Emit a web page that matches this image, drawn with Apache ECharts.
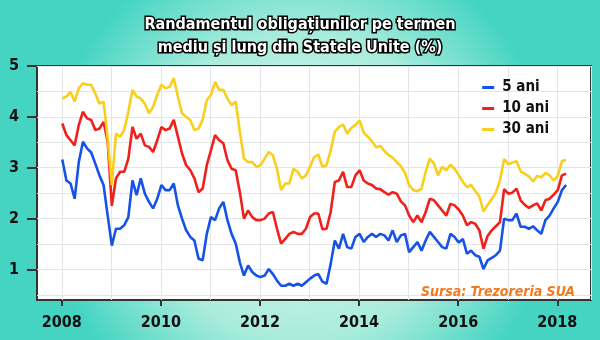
<!DOCTYPE html>
<html>
<head>
<meta charset="utf-8">
<script src="https://cdn.jsdelivr.net/npm/echarts@6/dist/echarts.min.js"></script>
<style>html,body{margin:0;padding:0;}#c{width:600px;height:340px;}</style>
</head>
<body>
<div id="c"></div>
<script>
// Monthly readings, Jan 2008 .. Feb 2018
const blue = [3.16,2.75,2.69,2.39,3.11,3.51,3.38,3.30,3.08,2.85,2.66,2.06,
1.47,1.80,1.80,1.87,2.03,2.75,2.46,2.79,2.49,2.33,2.20,2.39,
2.66,2.56,2.56,2.69,2.26,2.00,1.77,1.64,1.57,1.21,1.18,1.70,
2.03,1.97,2.20,2.33,1.97,1.70,1.51,1.14,0.88,1.08,0.95,0.88,
0.85,0.88,1.01,0.91,0.78,0.68,0.68,0.72,0.68,0.72,0.68,0.75,
0.82,0.88,0.91,0.76,0.72,1.11,1.57,1.41,1.70,1.44,1.41,1.64,
1.70,1.54,1.64,1.70,1.64,1.70,1.67,1.57,1.77,1.54,1.67,1.70,
1.34,1.44,1.54,1.37,1.57,1.74,1.64,1.54,1.44,1.41,1.70,1.64,
1.53,1.60,1.31,1.37,1.28,1.25,1.01,1.18,1.23,1.28,1.37,2.00,
1.97,1.97,2.10,1.84,1.84,1.80,1.85,1.77,1.70,1.97,2.06,2.20,
2.33,2.56,2.66];
const red = [3.87,3.64,3.54,3.44,3.84,4.10,3.97,3.94,3.74,3.77,3.90,3.51,
2.25,2.79,2.92,2.92,3.18,3.80,3.57,3.67,3.44,3.41,3.31,3.54,
3.80,3.74,3.77,3.94,3.61,3.28,3.05,2.95,2.79,2.52,2.59,3.05,
3.34,3.64,3.54,3.48,3.15,2.98,2.95,2.52,2.00,2.16,2.03,1.97,
1.97,2.00,2.10,2.13,1.80,1.51,1.60,1.70,1.74,1.70,1.70,1.80,
2.03,2.10,2.10,1.79,1.80,2.13,2.72,2.75,2.92,2.62,2.62,2.85,
2.95,2.75,2.69,2.66,2.59,2.58,2.52,2.47,2.52,2.49,2.34,2.26,
2.06,1.93,2.06,1.93,2.13,2.39,2.36,2.26,2.16,2.06,2.29,2.26,
2.18,2.06,1.87,1.93,1.90,1.77,1.41,1.66,1.77,1.85,1.93,2.58,
2.49,2.51,2.59,2.36,2.27,2.21,2.26,2.30,2.16,2.36,2.39,2.47,
2.56,2.85,2.88];
const yellow = [4.36,4.40,4.49,4.30,4.56,4.66,4.63,4.63,4.46,4.26,4.30,3.57,
2.66,3.67,3.61,3.74,4.10,4.53,4.40,4.36,4.26,4.07,4.20,4.43,
4.63,4.56,4.59,4.76,4.40,4.07,4.00,3.94,3.74,3.77,3.94,4.33,
4.43,4.69,4.53,4.53,4.36,4.23,4.30,3.71,3.18,3.11,3.11,3.02,
3.05,3.18,3.31,3.25,2.98,2.56,2.69,2.69,2.98,2.92,2.79,2.85,
3.02,3.21,3.26,3.02,3.05,3.34,3.71,3.80,3.85,3.67,3.78,3.84,
3.93,3.69,3.61,3.52,3.40,3.43,3.33,3.25,3.20,3.11,3.03,2.90,
2.66,2.56,2.54,2.59,2.92,3.18,3.08,2.85,3.02,2.95,3.06,2.98,
2.86,2.72,2.62,2.66,2.54,2.44,2.14,2.27,2.38,2.51,2.75,3.17,
3.07,3.10,3.13,2.93,2.88,2.83,2.73,2.84,2.81,2.90,2.85,2.75,
2.84,3.13,3.15];
const dates = blue.map((_, i) => 2008.01 + i / 12);
const xTicks = [2008, 2010, 2012, 2014, 2016, 2018];
const yTicks = [1, 2, 3, 4, 5];
const seriesNames = ['5 ani', '10 ani', '30 ani'];
const seriesColors = ['#1652e6', '#f0201c', '#f8cf1c'];
const titleText = 'Randamentul obligațiunilor pe termen\nmediu și lung din Statele Unite (%)';
const sourceText = 'Sursa: Trezoreria SUA';

const FONT = "'DejaVu Sans Condensed', Roboto, sans-serif";
const chart = echarts.init(document.getElementById('c'));
const values = [blue, red, yellow];
const option = {
  animation: false,
  backgroundColor: {
    type: 'radial', x: 0.5, y: 0.55, r: 0.75,
    colorStops: [{offset: 0, color: '#e6fbf4'}, {offset: 0.6, color: '#a9ecdc'}, {offset: 1, color: '#45d4c2'}]
  },
  title: [
    {text: titleText, left: 'center', top: 8,
     textStyle: {fontFamily: FONT, fontWeight: 'bold', fontSize: 16, lineHeight: 23, color: '#fff',
       textBorderColor: '#000', textBorderWidth: 3}},
    {text: sourceText, right: 20, top: 280,
     textStyle: {fontFamily: FONT, fontWeight: 'bold', fontStyle: 'italic', fontSize: 14, color: '#f27a1e'}}
  ],
  legend: {
    orient: 'vertical', right: 46, top: 75, itemGap: 6,
    icon: 'rect', itemWidth: 12, itemHeight: 3,
    textStyle: {fontFamily: FONT, fontWeight: 'bold', fontSize: 15, color: '#111', padding: [0, 0, 0, 3]},
    data: seriesNames
  },
  grid: {left: 37, right: 9, top: 66, bottom: 40, show: true, backgroundColor: '#fff',
    borderColor: '#333', borderWidth: 2},
  xAxis: [
    {type: 'value', min: 2007.5, max: 2018.68, position: 'bottom',
     axisLine: {show: false}, splitLine: {show: false},
     axisTick: {show: true, customValues: xTicks, length: 6, lineStyle: {color: '#333', width: 2}},
     axisLabel: {customValues: xTicks, margin: 15, color: '#111', fontWeight: 'bold', fontSize: 16,
       fontFamily: FONT, formatter: v => String(v)}},
    {type: 'value', min: 2007.5, max: 2018.68, interval: 0.5, position: 'top',
     axisLine: {show: false}, axisTick: {show: false}, axisLabel: {show: false},
     splitLine: {show: true, lineStyle: {color: ['rgba(0,0,0,0)', '#e2e6ea'], width: 1}}}
  ],
  yAxis: [
    {type: 'value', min: 0.4, max: 5, position: 'left',
     axisLine: {show: false}, splitLine: {show: false},
     axisTick: {show: true, customValues: yTicks, length: 10, lineStyle: {color: '#333', width: 2}},
     axisLabel: {customValues: yTicks, margin: 18, color: '#111', fontWeight: 'bold', fontSize: 16,
       fontFamily: FONT, formatter: v => String(v)}},
    {type: 'value', min: 0.4, max: 5, interval: 0.1, position: 'right',
     axisLine: {show: false}, axisTick: {show: false}, axisLabel: {show: false},
     splitLine: {show: true, lineStyle: {color: ['rgba(0,0,0,0)', '#e2e6ea', 'rgba(0,0,0,0)', 'rgba(0,0,0,0)', 'rgba(0,0,0,0)'], width: 1}}}
  ],
  series: values.map((vals, k) => ({
    name: seriesNames[k], type: 'line', xAxisIndex: 0, yAxisIndex: 0,
    showSymbol: false, symbol: 'none',
    lineStyle: {width: 2.6, color: seriesColors[k]}, itemStyle: {color: seriesColors[k]},
    data: dates.map((d, i) => [d, vals[i]])
  }))
};
chart.setOption(option);
</script>
</body>
</html>
